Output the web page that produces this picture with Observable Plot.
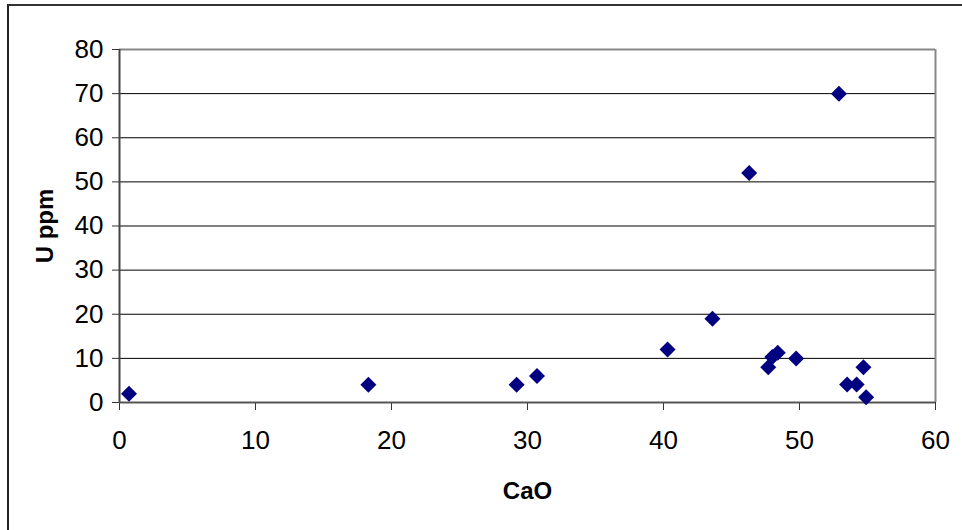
<!DOCTYPE html>
<html>
<head>
<meta charset="utf-8">
<script src="https://cdn.jsdelivr.net/npm/d3@7"></script>
<script src="https://cdn.jsdelivr.net/npm/@observablehq/plot@0.6"></script>
<style>
  html, body { margin: 0; padding: 0; background: #fff; }
  #wrap { position: relative; width: 962px; height: 530px; overflow: hidden; }
  #border { position: absolute; left: 7px; top: 4px; right: -10px; bottom: -10px;
            border-top: 2px solid #333; border-left: 2px solid #222; pointer-events: none; }
  #chart svg { display: block; }
</style>
</head>
<body>
<div id="wrap">
  <div id="chart"></div>
  <div id="border"></div>
</div>
<script>
// Data
const cao  = [0.7, 18.3, 29.2, 30.7, 40.3, 43.6, 46.3, 52.9, 47.7, 48.0, 48.4, 49.75, 53.5, 54.2, 54.7, 54.9];
const uppm = [2,   4,    4,    6,    12,   19,   52,   70,   8,    10.3, 11.3, 10,    4.1,  4.1,  8,    1.2];
const xTicks = [0, 10, 20, 30, 40, 50, 60];
const yTicks = [0, 10, 20, 30, 40, 50, 60, 70, 80];
const gridValues = [10, 20, 30, 40, 50, 60, 70];

const data = cao.map((c, i) => ({CaO: c, U: uppm[i]}));

const diamond = {
  draw(context, size) {
    const r = Math.sqrt(size / Math.PI);
    context.moveTo(0, -r);
    context.lineTo(r, 0);
    context.lineTo(0, r);
    context.lineTo(-r, 0);
    context.closePath();
  }
};

const font = "Liberation Sans, Arial, sans-serif";

const chart = Plot.plot({
  width: 962,
  height: 530,
  marginLeft: 119,
  marginTop: 49,
  marginRight: 27,
  marginBottom: 128,
  style: {fontFamily: font, fontSize: "26px", background: "#fff", color: "#000"},
  x: {domain: [0, 60]},
  y: {domain: [0, 80]},
  marks: [
    Plot.ruleY(gridValues, {stroke: "#000", strokeWidth: 1}),
    Plot.ruleY([80], {stroke: "#888", strokeWidth: 2}),
    Plot.ruleX([60], {stroke: "#888", strokeWidth: 2}),
    Plot.axisY({ticks: yTicks, tickSize: 7, tickPadding: 9, fontSize: 26, label: null, stroke: "#333", strokeOpacity: 1, tickFormat: d => String(d)}),
    Plot.axisX({ticks: xTicks, tickSize: 8, tickPadding: 20, fontSize: 26, label: null, stroke: "#333", strokeOpacity: 1, tickFormat: d => String(d)}),
    Plot.axisY({ticks: [], label: "U ppm", labelAnchor: "center", labelArrow: "none", labelOffset: 84, fontSize: 24, fontWeight: "bold"}),
    Plot.axisX({ticks: [], label: "CaO", labelAnchor: "center", labelArrow: "none", labelOffset: 96, fontSize: 24, fontWeight: "bold"}),
    Plot.ruleX([0], {stroke: "#444", strokeWidth: 2}),
    Plot.ruleY([0], {stroke: "#555", strokeWidth: 2}),
    Plot.dot(data, {x: "CaO", y: "U", symbol: diamond, r: 8, fill: "#000080", stroke: null})
  ]
});
document.getElementById("chart").appendChild(chart);
</script>
</body>
</html>
